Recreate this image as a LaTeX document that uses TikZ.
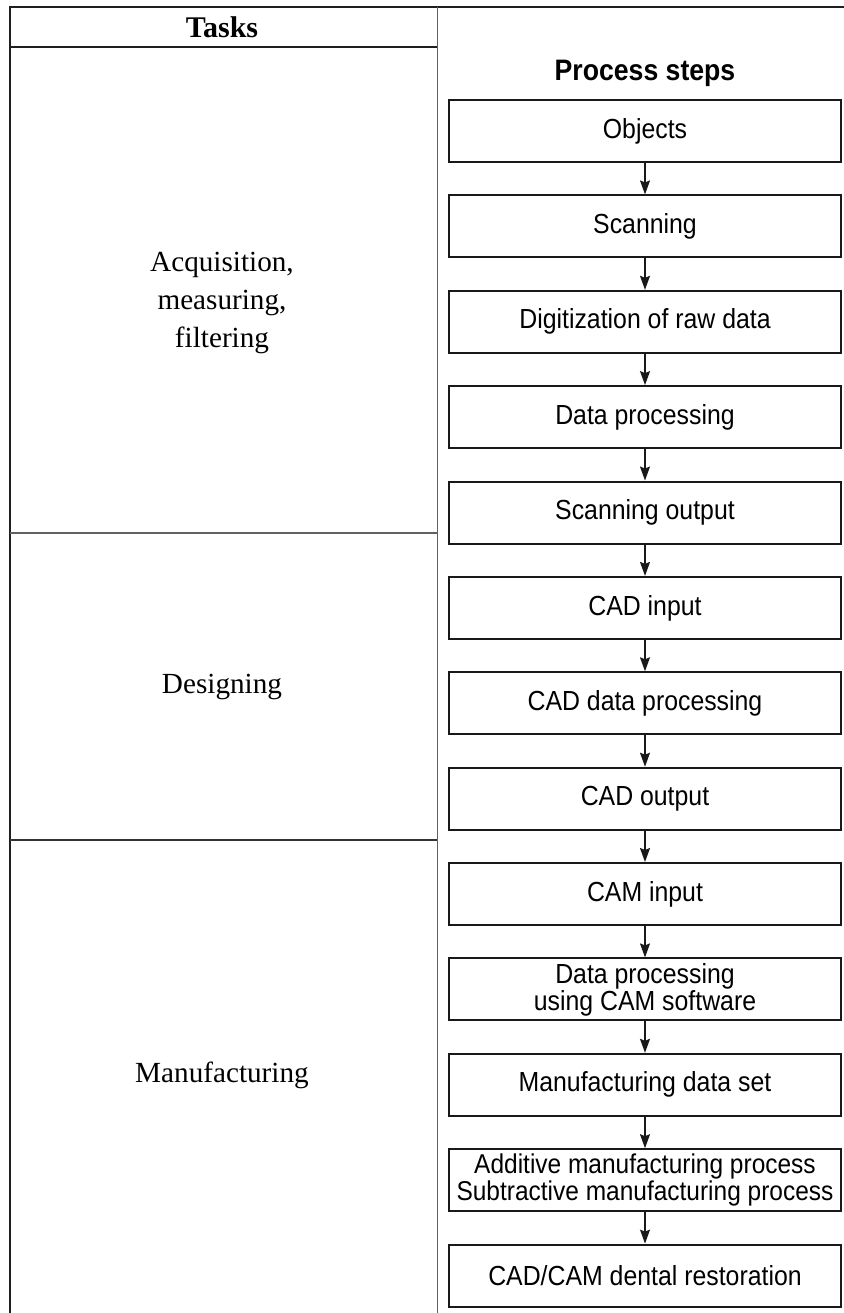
\documentclass[tikz,border=0pt]{standalone}
\usepackage{fontspec}
\setmainfont{Liberation Serif}
\setsansfont{Liberation Sans}[FakeStretch=0.9]
\usetikzlibrary{arrows.meta}
\begin{document}
\begin{tikzpicture}[x=0.5pt,y=-0.5pt,
  stepbox/.style={draw=black!90,line width=1pt,minimum width=196pt,minimum height=31pt,
    inner sep=0pt,align=center,font=\sffamily\fontsize{13.8}{14}\selectfont},
  flow/.style={draw=black!90,line width=0.7pt,-{Stealth[length=7pt,width=5pt,inset=1pt]}},
  outer/.style={draw=black!88,line width=1.1pt},
  inner/.style={draw=black!62,line width=0.6pt},
  task/.style={font=\fontsize{14.6}{19}\selectfont,align=center}]
\useasboundingbox (0,0) rectangle (844,1313);
% table
\draw[outer] (10,1313) -- (10,7) -- (844,7);
\draw[outer] (10,47) -- (437,47);
\draw[inner] (437.5,7) -- (437.5,1313);
\draw[inner] (10,533) -- (437,533);
\draw[draw=black!80,line width=0.6pt] (10,840) -- (437,840);
% headers
\node[font=\bfseries\fontsize{15}{16}\selectfont] (tasks) at (222,27) {Tasks};
\node[font=\sffamily\bfseries\fontsize{14.8}{16}\selectfont] (ps) at (645,73) {Process steps};
% task labels
\node[task] (t1) at (222,303) {Acquisition,\\measuring,\\filtering};
\node[task] (t2) at (222,687) {Designing};
\node[task] (t3) at (222,1075) {Manufacturing};
% process boxes
\node[stepbox] (b1) at (645,131) {Objects};
\node[stepbox] (b2) at (645,226.4) {Scanning};
\node[stepbox] (b3) at (645,321.8) {Digitization of raw data};
\node[stepbox] (b4) at (645,417.1) {Data processing};
\node[stepbox] (b5) at (645,512.5) {Scanning output};
\node[stepbox] (b6) at (645,607.9) {CAD input};
\node[stepbox] (b7) at (645,703.3) {CAD data processing};
\node[stepbox] (b8) at (645,798.7) {CAD output};
\node[stepbox] (b9) at (645,894) {CAM input};
\node[stepbox,font=\sffamily\fontsize{13.8}{13.5}\selectfont] (b10) at (645,989.4) {Data processing\\using CAM software};
\node[stepbox,font=\sffamily\fontsize{13.8}{13.5}\selectfont] (b11) at (645,1084.8) {Manufacturing data set};
\node[stepbox,font=\sffamily\fontsize{13.6}{13.5}\selectfont] (b12) at (645,1180.2) {Additive manufacturing process\\Subtractive manufacturing process};
\node[stepbox] (b13) at (645,1275.6) {CAD/CAM dental restoration};
\foreach \a/\b in {b1/b2,b2/b3,b3/b4,b4/b5,b5/b6,b6/b7,b7/b8,b8/b9,b9/b10,b10/b11,b11/b12,b12/b13}
  \draw[flow] (\a) -- (\b);
\end{tikzpicture}
\end{document}
